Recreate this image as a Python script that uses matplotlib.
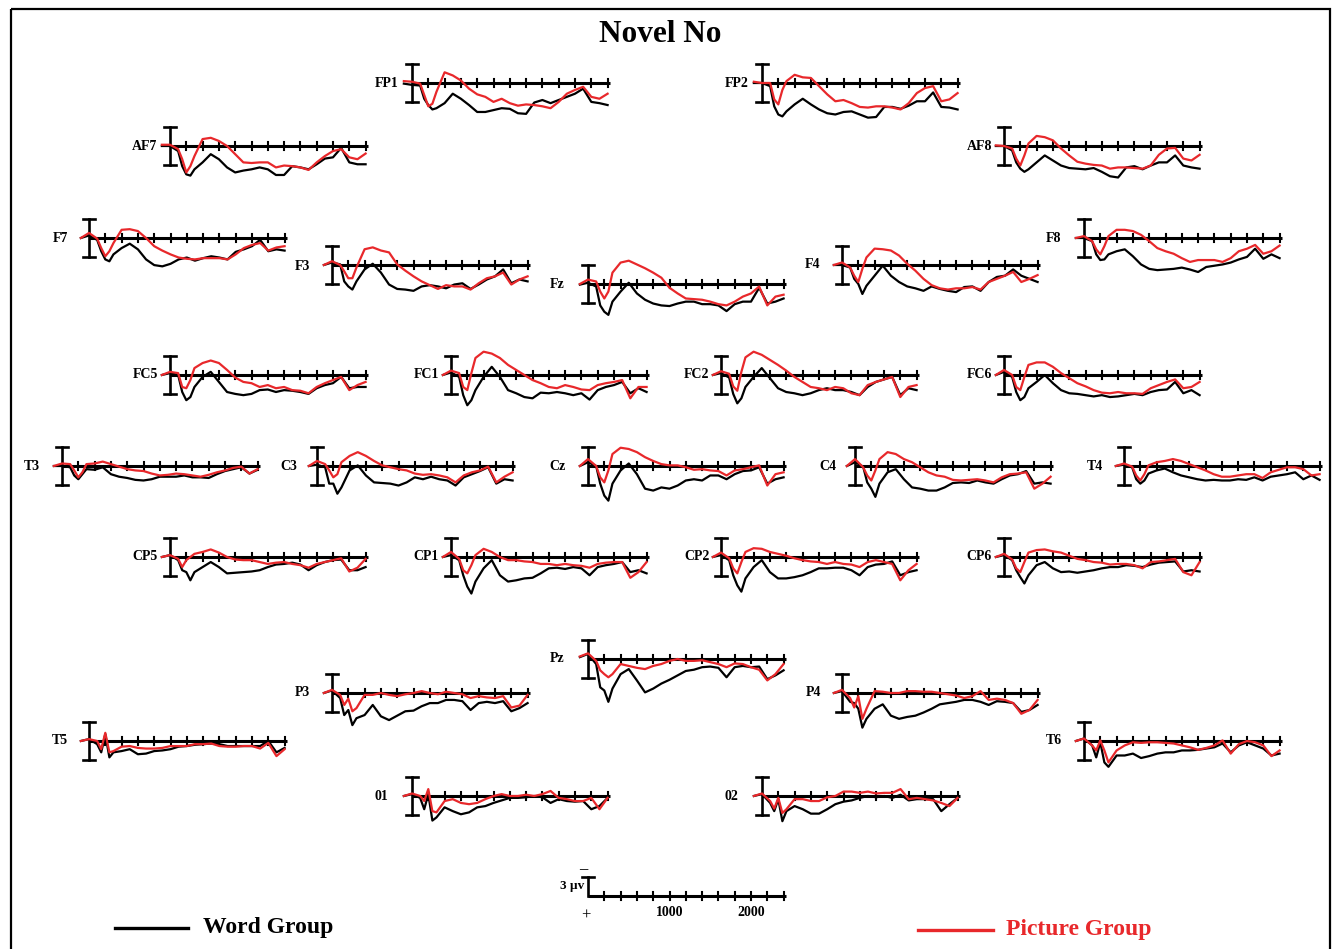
import matplotlib
matplotlib.use("Agg")
import matplotlib.pyplot as plt
from matplotlib.patches import Rectangle

times = [-100, 0, 100, 150, 200, 250, 300, 400, 500, 600, 700, 800, 900, 1000,
         1100, 1200, 1300, 1400, 1500, 1600, 1700, 1800, 1900, 2000, 2100, 2200,
         2300, 2400]

electrodes = ["FP1", "FP2", "AF7", "AF8", "F7", "F3", "Fz", "F4", "F8",
              "FC5", "FC1", "FC2", "FC6", "T3", "C3", "Cz", "C4", "T4",
              "CP5", "CP1", "CP2", "CP6", "Pz", "P3", "P4", "T5", "T6", "01", "02"]

# amplitudes in microvolts (positive plotted downwards)
word_group = {
    "FP1": [0.1, 0.3, 0.4, 2.5, 3.5, 4.2, 4.0, 3.2, 1.7, 2.5, 3.5, 4.6, 4.6, 4.3, 4.0, 4.1, 4.8, 4.9, 3.1, 2.7, 3.2, 2.7, 2.2, 1.7, 0.9, 3.0, 3.2, 3.5],
    "FP2": [0, 0, 0.5, 3.7, 5.0, 5.3, 4.5, 3.4, 2.5, 3.4, 4.2, 4.8, 5.0, 4.6, 4.5, 5.0, 5.5, 5.4, 3.8, 3.8, 4.1, 3.6, 2.9, 2.9, 1.5, 3.8, 3.9, 4.2],
    "AF7": [0, 0, 0.8, 3.2, 4.5, 4.7, 3.7, 2.6, 1.3, 2.1, 3.4, 4.2, 3.9, 3.7, 3.4, 3.7, 4.6, 4.6, 3.2, 3.4, 3.7, 2.9, 2.0, 1.8, 0.3, 2.6, 2.9, 2.9],
    "AF8": [0, 0, 0.7, 2.6, 3.6, 4.1, 3.7, 2.6, 1.5, 2.3, 3.1, 3.5, 3.6, 3.7, 3.5, 4.1, 4.8, 5.0, 3.4, 3.2, 3.7, 3.1, 2.6, 2.6, 1.5, 3.1, 3.4, 3.6],
    "F7": [0, -0.4, 0.3, 2.1, 3.4, 3.7, 2.6, 1.6, 0.9, 1.8, 3.4, 4.3, 4.5, 4.1, 3.4, 3.1, 3.6, 3.2, 2.9, 3.1, 3.4, 2.2, 1.8, 1.3, 0.3, 2.1, 1.8, 2.0],
    "F3": [0, -0.4, -0.1, 2.6, 3.4, 3.9, 2.6, 0.7, -0.2, 1.2, 3.1, 3.8, 3.9, 4.1, 3.4, 3.2, 3.4, 3.7, 3.1, 2.9, 3.8, 3.1, 2.3, 1.8, 0.7, 2.9, 2.3, 2.6],
    "Fz": [0.1, -0.2, 0.4, 3.4, 4.4, 4.9, 2.8, 1.2, -0.2, 1.5, 2.5, 3.1, 3.4, 3.5, 3.1, 2.8, 2.8, 3.2, 3.2, 3.4, 4.3, 3.2, 2.8, 2.8, 0.6, 3.1, 2.8, 2.3],
    "F4": [0, 0, 0.4, 2.2, 3.0, 4.6, 3.3, 1.7, 0.1, 1.7, 2.7, 3.4, 3.7, 4.1, 3.4, 3.8, 4.1, 4.3, 3.5, 3.4, 4.1, 2.7, 1.9, 1.7, 0.7, 1.7, 2.2, 2.7],
    "F8": [0, 0, 0.5, 2.6, 3.5, 3.4, 2.6, 2.1, 1.8, 2.9, 4.2, 4.9, 5.1, 5.0, 4.9, 4.7, 5.0, 5.4, 4.6, 4.4, 4.2, 3.9, 3.4, 3.0, 1.7, 3.3, 2.6, 3.2],
    "FC5": [0, -0.3, 0, 2.7, 4.0, 3.5, 1.9, 0.3, -0.5, 1.1, 2.7, 3.0, 3.2, 3.0, 2.4, 2.3, 2.7, 2.4, 2.5, 2.7, 3.0, 2.1, 1.6, 1.3, 0.3, 2.1, 1.9, 1.9],
    "FC1": [0, -0.4, 0.3, 3.2, 4.8, 4.0, 2.4, 0.3, -1.3, 0.3, 2.4, 2.9, 3.5, 3.7, 2.8, 2.9, 2.7, 2.9, 3.2, 2.9, 3.9, 2.4, 1.9, 1.6, 1.1, 2.9, 2.1, 2.7],
    "FC2": [0, -0.3, 0.4, 3.0, 4.5, 3.7, 1.9, 0.3, -1.1, 0.5, 2.1, 2.7, 2.9, 3.2, 2.9, 2.4, 2.1, 2.4, 2.4, 2.7, 3.2, 1.9, 1.1, 0.7, 0.3, 3.2, 2.1, 2.4],
    "FC6": [0, -0.5, 0.3, 2.7, 4.0, 3.5, 2.1, 1.1, 0, 1.3, 2.4, 2.9, 3.0, 3.2, 3.4, 3.2, 3.5, 3.4, 3.2, 3.0, 3.2, 2.7, 2.4, 2.3, 1.1, 2.9, 2.4, 3.2],
    "T3": [0, 0, 0.2, 1.5, 2.1, 1.3, 0.5, 0.6, 0.2, 1.3, 1.7, 1.9, 2.2, 2.3, 2.1, 1.7, 1.7, 1.7, 1.5, 1.8, 1.8, 1.9, 1.3, 0.8, 0.5, 0.2, 1.2, 0.6],
    "C3": [0, -0.2, 0.2, 2.8, 2.8, 4.4, 3.4, 0.7, -0.1, 1.5, 2.6, 2.7, 2.8, 3.1, 2.6, 1.8, 2.1, 1.7, 2.1, 2.3, 3.1, 1.8, 1.3, 0.8, 0.2, 2.8, 2.1, 2.3],
    "Cz": [0, -0.6, 0, 2.8, 4.7, 5.5, 2.8, 0.7, -0.4, 1.3, 3.6, 3.9, 3.4, 3.6, 3.1, 2.3, 2.1, 2.3, 1.5, 1.5, 2.1, 1.3, 0.8, 0.7, 0.2, 2.8, 2.1, 1.8],
    "C4": [0, -0.6, 0.1, 2.6, 3.6, 4.9, 2.8, 1.0, 0.5, 2.1, 3.4, 3.6, 3.9, 3.9, 3.4, 2.7, 2.6, 2.7, 2.3, 2.6, 2.8, 2.1, 1.5, 1.3, 0.8, 2.8, 2.6, 2.8],
    "T4": [0, -0.2, 0.2, 2.1, 2.8, 2.3, 1.2, 0.7, 0.4, 1.0, 1.5, 1.8, 2.1, 2.3, 2.2, 2.3, 2.3, 2.1, 2.2, 1.8, 2.3, 1.7, 1.5, 1.3, 1.0, 2.1, 1.5, 2.2],
    "CP5": [0, -0.3, 0.5, 2.1, 2.4, 3.7, 2.4, 1.6, 0.8, 1.6, 2.6, 2.5, 2.4, 2.3, 2.1, 1.6, 1.2, 1.1, 0.9, 1.2, 2.1, 1.3, 0.8, 0.5, 0.4, 2.1, 2.1, 1.6],
    "CP1": [0, -0.3, 0.5, 2.9, 4.7, 5.8, 3.9, 1.8, 0.5, 2.9, 3.9, 3.7, 3.4, 3.3, 2.6, 1.8, 1.7, 1.9, 1.6, 1.8, 2.9, 1.6, 1.3, 1.1, 0.8, 2.4, 2.1, 2.6],
    "CP2": [0, -0.3, 0.5, 2.9, 4.5, 5.5, 3.4, 1.6, 0.5, 2.4, 3.4, 3.4, 3.2, 2.9, 2.4, 1.8, 1.8, 1.7, 1.7, 2.1, 2.9, 1.6, 1.2, 1.1, 0.7, 2.9, 2.4, 2.1],
    "CP6": [0, -0.3, 0.5, 2.1, 3.2, 4.2, 2.9, 1.3, 0.8, 1.8, 2.4, 2.3, 2.5, 2.3, 2.1, 1.8, 1.6, 1.6, 1.3, 1.4, 1.6, 1.2, 0.9, 0.8, 0.7, 2.3, 2.1, 2.3],
    "Pz": [-0.3, -0.8, 0.8, 4.5, 5.0, 6.8, 4.7, 2.4, 1.6, 3.4, 5.3, 4.7, 3.9, 3.3, 2.6, 1.9, 1.7, 1.3, 1.2, 1.4, 2.9, 1.3, 1.1, 1.3, 1.2, 3.2, 2.6, 1.8],
    "P3": [0, -0.4, 0.8, 3.5, 2.7, 5.1, 4.0, 3.5, 1.9, 3.7, 4.3, 3.6, 2.9, 2.8, 2.1, 1.6, 1.6, 1.1, 1.1, 1.3, 2.7, 1.6, 1.4, 1.6, 1.3, 2.9, 2.4, 1.6],
    "P4": [0, -0.3, 1.4, 1.6, 2.5, 5.5, 4.1, 2.5, 1.8, 3.6, 4.1, 3.8, 3.6, 3.1, 2.5, 1.8, 1.6, 1.4, 1.1, 1.1, 1.4, 1.9, 1.3, 1.4, 1.6, 3.0, 2.7, 1.9],
    "T5": [0, -0.3, 0.5, 1.8, -1.1, 2.6, 1.8, 1.6, 1.3, 2.1, 2.0, 1.6, 1.5, 1.3, 0.9, 0.8, 0.6, 0.5, 0.4, 0.5, 0.8, 0.8, 0.8, 0.8, 0.8, 0, 1.8, 1.1],
    "T6": [0, -0.4, 0.7, 2.6, 0.2, 3.4, 4.1, 2.3, 2.3, 2.0, 2.7, 2.4, 2.0, 1.8, 1.8, 1.5, 1.5, 1.4, 1.2, 1.0, 0.4, 1.8, 0.7, 0.2, 0.7, 1.2, 2.3, 2.0],
    "01": [0, -0.3, 0.3, 2.1, -0.3, 3.9, 3.4, 1.8, 2.4, 2.9, 2.6, 1.8, 1.6, 1.1, 0.7, 0.3, 0.3, 0.2, 0, 0.2, 1.1, 0.5, 0.8, 0.9, 0.8, 2.1, 1.6, 0.3],
    "02": [0, -0.3, 1.1, 2.4, 0.5, 4.0, 2.4, 1.6, 2.1, 2.8, 2.8, 2.1, 1.3, 0.9, 0.7, 0.3, 0, 0.2, 0, 0.3, -0.2, 0.7, 0.5, 0.5, 0.5, 2.4, 1.3, 0.3],
}

picture_group = {
    "FP1": [-0.3, -0.2, 0.1, 1.9, 3.7, 3.3, 1.4, -1.7, -1.2, -0.4, 0.9, 1.8, 2.2, 3.0, 2.5, 3.2, 3.6, 3.4, 3.5, 3.7, 4.0, 3.0, 1.7, 1.1, 0.6, 2.2, 2.5, 1.7],
    "FP2": [-0.2, 0, 0, 2.6, 3.4, 1.1, -0.3, -1.3, -0.9, -0.8, 0.5, 1.8, 2.9, 2.7, 3.2, 3.8, 3.9, 3.7, 3.7, 3.9, 4.2, 3.2, 1.6, 0.8, 0.5, 2.9, 2.6, 1.6],
    "AF7": [-0.2, -0.2, 0.5, 2.1, 4.2, 3.2, 1.6, -1.1, -1.3, -0.8, 0, 1.3, 2.6, 2.7, 2.6, 2.6, 3.4, 3.1, 3.2, 3.4, 3.8, 2.6, 1.6, 0.8, 0.5, 1.8, 2.1, 1.2],
    "AF8": [-0.1, 0, 0.4, 2.0, 3.1, 1.5, -0.4, -1.6, -1.4, -0.9, 0.4, 1.5, 2.5, 2.8, 3.0, 3.1, 3.6, 3.4, 3.4, 3.5, 3.6, 3.1, 1.4, 0.4, 0.3, 2.0, 2.3, 1.4],
    "F7": [0, -0.8, 0.1, 1.6, 2.9, 2.1, 0.8, -1.3, -1.4, -1.1, 0, 1.3, 2.0, 2.6, 3.1, 3.3, 3.4, 3.2, 3.2, 3.2, 3.4, 2.6, 1.6, 1.1, 0.8, 2.0, 1.5, 1.3],
    "F3": [0, -0.6, 0, 1.0, 2.1, 2.1, 0.4, -2.5, -2.8, -2.3, -2.0, -0.1, 0.9, 1.8, 2.6, 3.2, 3.8, 3.2, 3.4, 3.4, 3.9, 2.9, 2.1, 1.8, 1.2, 3.1, 2.3, 1.8],
    "Fz": [0, -0.7, -0.4, 1.2, 2.3, 1.2, -1.8, -3.4, -3.7, -3.1, -2.5, -1.8, -1.0, 0.6, 1.5, 2.3, 2.4, 2.5, 2.8, 3.2, 3.4, 2.8, 2.0, 1.5, 0.4, 3.4, 2.0, 1.7],
    "F4": [0, -0.4, 0.4, 1.7, 2.7, 0.6, -1.2, -2.6, -2.5, -2.3, -1.5, -0.2, 0.9, 2.2, 3.2, 3.7, 3.9, 3.7, 3.7, 3.5, 3.9, 2.7, 2.2, 1.7, 1.1, 2.7, 2.2, 1.6],
    "F8": [0, -0.3, 0.5, 1.8, 2.6, 1.3, -0.3, -1.3, -1.3, -1.1, -0.5, 0.5, 1.6, 2.1, 2.5, 3.2, 3.8, 3.5, 3.5, 3.5, 3.8, 3.2, 2.1, 1.7, 1.1, 2.5, 2.1, 1.2],
    "FC5": [0, -0.5, -0.3, 1.9, 2.1, 0.8, -1.1, -1.9, -2.3, -1.9, -0.8, 0.4, 1.1, 1.3, 1.9, 1.6, 2.1, 1.9, 2.4, 2.5, 2.9, 1.9, 1.3, 0.8, 0.3, 2.4, 1.6, 1.1],
    "FC1": [0, -0.7, -0.3, 1.9, 2.4, -0.3, -2.7, -3.7, -3.4, -2.7, -1.6, -0.8, 0, 0.8, 1.3, 1.9, 2.1, 1.6, 1.9, 2.3, 2.4, 1.6, 1.3, 1.1, 0.8, 3.7, 1.9, 1.9],
    "FC2": [0, -0.6, -0.2, 1.8, 2.5, -0.5, -2.8, -3.7, -3.2, -2.4, -1.6, -0.7, 0.3, 1.1, 1.9, 2.1, 2.4, 1.9, 2.1, 2.9, 3.2, 1.6, 1.1, 0.7, 0.3, 3.5, 1.9, 1.6],
    "FC6": [0, -0.8, 0, 1.9, 2.4, 0.3, -1.6, -2.0, -2.0, -1.3, -0.3, 0.5, 1.3, 1.8, 2.4, 2.8, 2.9, 2.7, 2.9, 2.9, 3.0, 2.1, 1.6, 1.1, 0.7, 2.1, 1.9, 1.1],
    "T3": [0, -0.4, -0.3, 0.7, 1.8, 1.0, -0.3, -0.4, -0.7, -0.3, 0.1, 0.5, 0.7, 0.8, 1.2, 1.5, 1.4, 1.2, 1.3, 1.5, 1.7, 1.4, 1.0, 0.7, 0.3, 0.1, 1.2, 0.5],
    "C3": [0, -0.8, -0.3, 0.7, 1.8, 1.3, -0.6, -1.6, -2.2, -1.6, -0.8, -0.1, 0.2, 0.5, 0.7, 1.2, 1.4, 1.3, 1.5, 1.8, 2.6, 1.5, 1.0, 0.7, 0.1, 2.6, 1.7, 1.0],
    "Cz": [0, -1.1, 0, 1.8, 2.6, 0.7, -1.9, -2.9, -2.7, -2.2, -1.4, -0.8, -0.3, -0.1, -0.1, 0.2, 0.6, 0.5, 0.7, 0.8, 1.5, 0.7, 0.5, 0.2, -0.1, 3.1, 1.3, 1.0],
    "C4": [0, -1.1, 0.2, 1.5, 2.3, 0.7, -1.1, -2.2, -1.9, -1.1, -0.6, 0.2, 1.0, 1.5, 1.7, 2.2, 2.3, 2.2, 2.1, 2.3, 2.6, 1.8, 1.3, 1.2, 1.0, 3.6, 2.8, 1.7],
    "T4": [0, -0.4, 0.1, 1.5, 2.3, 1.3, -0.1, -0.6, -0.8, -1.1, -0.8, -0.3, 0.2, 0.7, 1.3, 1.7, 1.7, 1.5, 1.3, 1.3, 1.9, 1.0, 0.6, 0.2, 0.2, 0.5, 1.5, 1.3],
    "CP5": [0, -0.3, 0.3, 1.6, 0.5, 0, -0.5, -0.8, -1.2, -0.7, 0, 0.4, 0.5, 0.5, 0.8, 1.1, 0.9, 0.8, 1.1, 1.3, 1.7, 1.1, 0.8, 0.5, 0.2, 2.3, 1.7, 0.3],
    "CP1": [0, -0.8, 0.3, 2.1, 2.6, 1.3, -0.3, -1.3, -0.8, 0, 0.5, 0.5, 0.7, 0.8, 1.1, 1.1, 1.3, 1.1, 1.3, 1.4, 1.7, 1.1, 0.9, 0.8, 0.8, 3.3, 2.4, 0.8],
    "CP2": [0, -0.7, 0.2, 1.8, 2.6, 0.8, -0.8, -1.4, -1.3, -0.8, -0.5, -0.2, 0.2, 0.5, 0.7, 0.8, 1.1, 0.8, 1.1, 1.2, 1.6, 0.8, 0.5, 0.8, 1.1, 3.7, 2.1, 1.1],
    "CP6": [0, -0.5, 0.4, 1.8, 2.4, 0.8, -0.7, -1.1, -1.2, -0.9, -0.7, -0.2, 0.3, 0.5, 0.8, 0.9, 1.2, 1.1, 1.1, 1.3, 1.8, 0.8, 0.7, 0.5, 0.3, 2.4, 2.9, 0.8],
    "Pz": [-0.4, -0.9, 0.3, 1.8, 2.4, 2.9, 2.4, 0.8, 1.1, 1.4, 1.6, 1.1, 0.8, 0.3, 0, 0.3, 0.3, 0.2, 0.5, 0.8, 1.3, 0.7, 0.8, 1.3, 1.7, 3.4, 2.4, 0.8],
    "P3": [0, -0.5, 0.3, 1.9, 0.9, 2.9, 2.4, 0.3, 0.3, 0, 0.3, 0.5, 0.2, 0, -0.3, 0, 0.2, -0.2, 0, 0.2, 0.8, 0.5, 0.7, 0.8, 0.5, 2.3, 2.0, 0.3],
    "P4": [0, -0.5, 0.8, 2.3, 0.5, 4.1, 2.5, -0.3, -0.2, 0, 0, -0.3, -0.3, -0.2, -0.2, 0, 0.2, 0.4, 0.8, 0.5, -0.3, 1.1, 0.9, 1.1, 1.6, 3.3, 2.7, 1.1],
    "T5": [0, -0.3, 0, 1.3, -1.3, 1.8, 1.6, 0.9, 0.8, 1.1, 1.2, 1.2, 1.1, 0.8, 0.8, 0.8, 0.5, 0.5, 0.4, 0.8, 0.9, 0.9, 0.8, 0.8, 1.2, 0.3, 2.4, 1.3],
    "T6": [0, -0.4, 0.7, 1.5, -0.1, 1.5, 3.4, 1.5, 0.7, 0.2, 0.3, 0.2, 0.2, 0.3, 0.4, 0.7, 1.0, 1.4, 1.1, 0.7, -0.1, 2.0, 0.5, 0, 0.2, 0.7, 2.4, 1.5],
    "01": [0, -0.4, 0, 0.8, -1.1, 2.4, 2.6, 0.8, 0.5, 1.1, 1.3, 1.1, 0.5, 0, -0.3, 0, 0, -0.2, 0, -0.3, -0.8, 0.3, 0.5, 0.8, 0.8, 0.3, 2.1, 0.3],
    "02": [0, -0.4, 0.8, 2.0, 0.3, 2.7, 2.1, 0.5, 0.5, 0.8, 0.8, 0.2, 0, -0.7, -0.7, -0.5, -0.7, -0.4, -0.5, -0.5, -1.1, 0.5, 0.3, 0.5, 0.7, 1.1, 1.6, 0.3],
}

scale_ticks = [1000, 2000]

# layout: pixel position of each panel origin (time 0, 0 uV) and of its label
origin = {
    "FP1": (412, 83), "FP2": (762, 83), "AF7": (170, 146), "AF8": (1004, 146),
    "F7": (89, 238), "F3": (332, 265), "Fz": (588, 284), "F4": (842, 265), "F8": (1084, 238),
    "FC5": (170, 375), "FC1": (451, 375), "FC2": (721, 375), "FC6": (1004, 375),
    "T3": (62, 466), "C3": (317, 466), "Cz": (588, 466), "C4": (855, 466), "T4": (1124, 466),
    "CP5": (170, 557), "CP1": (451, 557), "CP2": (721, 557), "CP6": (1004, 557),
    "Pz": (588, 659), "P3": (332, 693), "P4": (842, 693), "T5": (89, 741), "T6": (1084, 741),
    "01": (412, 796), "02": (762, 796),
}
label_pos = {
    "FP1": (387, 83), "FP2": (737, 83), "AF7": (145, 146), "AF8": (980, 146),
    "F7": (60, 238), "F3": (302, 266), "Fz": (557, 284), "F4": (813, 265), "F8": (1054, 238),
    "FC5": (145, 375), "FC1": (426, 375), "FC2": (697, 375), "FC6": (979, 375),
    "T3": (32, 466), "C3": (289, 466), "Cz": (557, 466), "C4": (828, 466), "T4": (1095, 466),
    "CP5": (145, 557), "CP1": (426, 557), "CP2": (697, 557), "CP6": (979, 557),
    "Pz": (557, 658), "P3": (302, 693), "P4": (813, 693), "T5": (60, 741), "T6": (1054, 741),
    "01": (381, 796), "02": (731, 796),
}
scale_origin = (588, 896)

W, H = 1334, 949
PX_MS = 0.0815
PX_UV = 6.3
T_LIM = (-250, 2550)
V_LIM = (-5.5, 8.0)
RED = "#e8282b"
SERIF = ["Liberation Serif", "DejaVu Serif"]

fig = plt.figure(figsize=(W / 100, H / 100), dpi=100)
fig.patch.set_facecolor("white")

bg = fig.add_axes([0, 0, 1, 1])
bg.set_xlim(0, W)
bg.set_ylim(H, 0)
bg.axis("off")
bg.add_patch(Rectangle((11, 9), 1319, 960, fill=False, lw=1.6, ec="black", clip_on=False))

bg.text(660, 34, "Novel No", ha="center", va="center", fontsize=22.5,
        fontweight="bold", family=SERIF)


def add_panel(x0, y0):
    left = x0 + T_LIM[0] * PX_MS
    width = (T_LIM[1] - T_LIM[0]) * PX_MS
    top = y0 + V_LIM[0] * PX_UV
    height = (V_LIM[1] - V_LIM[0]) * PX_UV
    ax = fig.add_axes([left / W, 1 - (top + height) / H, width / W, height / H])
    ax.set_xlim(*T_LIM)
    ax.set_ylim(V_LIM[1], V_LIM[0])
    ax.axis("off")
    ax.patch.set_alpha(0)
    return ax


def draw_axis(ax, full_bar=True):
    ax.plot([0, 2430], [0, 0], color="black", lw=2.2, solid_capstyle="butt")
    for t in range(200, 2401, 200):
        ax.plot([t, t], [-0.6, 0.6], color="black", lw=1.5)
    low = 3 if full_bar else 0
    ax.plot([0, 0], [-3, low], color="black", lw=1.9)
    ax.plot([-70, 70], [-3, -3], color="black", lw=1.9)
    if full_bar:
        ax.plot([-70, 70], [3, 3], color="black", lw=1.9)


for name in electrodes:
    x0, y0 = origin[name]
    ax = add_panel(x0, y0)
    draw_axis(ax)
    ax.plot(times, word_group[name], color="black", lw=1.6, clip_on=False)
    ax.plot(times, picture_group[name], color=RED, lw=1.6, clip_on=False)
    lx, ly = label_pos[name]
    bg.text(lx, ly, name, ha="center", va="center", fontsize=10,
            fontweight="bold", family=SERIF)

# calibration panel
sax = add_panel(*scale_origin)
draw_axis(sax, full_bar=False)
for t in scale_ticks:
    sax.text(t, 2.6, str(t), ha="center", va="center", fontsize=10,
             fontweight="bold", family=SERIF)
bg.text(583, 869, "\u2013", ha="center", va="center", fontsize=12,
        fontweight="bold", family=SERIF)
bg.text(584, 886, "3 \u00b5v", ha="right", va="center", fontsize=9.5,
        fontweight="bold", family=SERIF)
bg.text(586, 916, "+", ha="center", va="center", fontsize=12, family=SERIF)

# legend
bg.plot([115, 188], [928, 928], color="black", lw=2.4)
bg.text(203, 928, "Word Group", ha="left", va="center", fontsize=17,
        fontweight="bold", family=SERIF)
bg.plot([918, 993], [930, 930], color=RED, lw=2.4)
bg.text(1006, 930, "Picture Group", ha="left", va="center", fontsize=17,
        fontweight="bold", family=SERIF, color=RED)

fig.savefig("out.png", dpi=100)
